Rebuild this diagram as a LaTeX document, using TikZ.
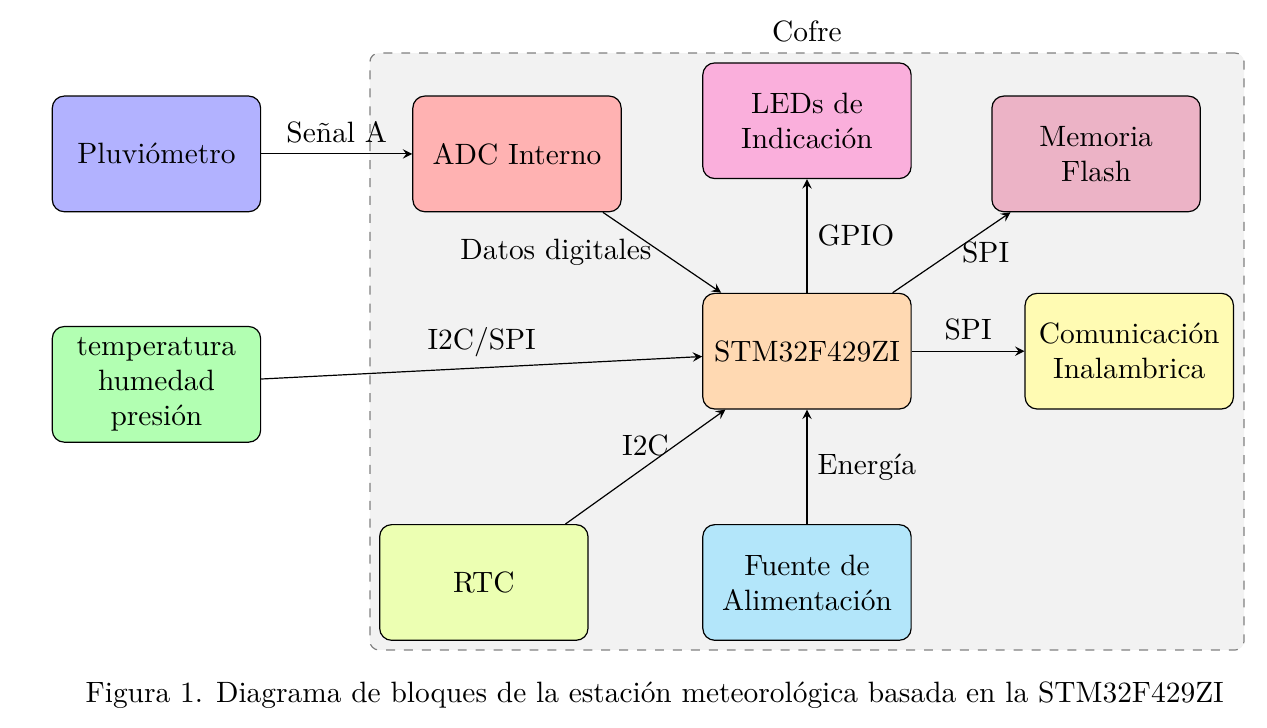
\documentclass[tikz,border=0pt]{standalone}
\usepackage{fontspec}
\usepackage{tikz}
\usetikzlibrary{arrows,positioning}
\definecolor{rosaled}{RGB}{250,175,220}
\definecolor{rosaflash}{RGB}{236,179,198}
\definecolor{celeste}{RGB}{179,230,250}
\begin{document}
\begin{tikzpicture}[every node/.style={font=\fontsize{9.84}{11.7}\selectfont},
  bloque/.style={draw, rounded corners, minimum width=2.45cm, minimum height=1.36cm, align=center},
  flecha/.style={-stealth}]
\useasboundingbox (0,0) rectangle (14.9,8.55);
% caja del cofre
\node[draw=gray, dashed, fill=gray!10, rounded corners=3pt, minimum width=10.28cm, minimum height=7.02cm,
  label={above:Cofre}] (cofre) at (9.49,4.416) {};
% bloques
\node[bloque, fill=blue!30] (pluv) at (1.84,6.74) {Pluviómetro};
\node[bloque, fill=green!30] (temp) at (1.84,4.03) {temperatura\\humedad\\presión};
\node[bloque, fill=red!30] (adc) at (6.08,6.74) {ADC Interno};
\node[bloque, fill=rosaled] (led) at (9.49,7.13) {LEDs de\\Indicación};
\node[bloque, fill=rosaflash] (flash) at (12.89,6.74) {Memoria\\Flash};
\node[bloque, fill=orange!30] (stm) at (9.49,4.42) {STM32F429ZI};
\node[bloque, fill=yellow!30] (com) at (13.28,4.42) {Comunicación\\Inalambrica};
\node[bloque, fill=lime!30] (rtc) at (5.69,1.70) {RTC};
\node[bloque, fill=celeste] (fuente) at (9.49,1.70) {Fuente de\\Alimentación};
% conexiones
\draw[flecha] (pluv) -- node[above] {Señal A} (adc);
\draw[flecha] (adc) -- node[left] {Datos digitales} (stm);
\draw[flecha] (stm) -- node[right] {GPIO} (led);
\draw[flecha] (stm) -- node[right] {SPI} (flash);
\draw[flecha] (stm) -- node[above] {SPI} (com);
\draw[flecha] (temp) -- node[above] {I2C/SPI} (stm);
\draw[flecha] (rtc) -- node[above] {I2C} (stm);
\draw[flecha] (fuente) -- node[right] {Energía} (stm);
% pie de figura
\node (pie) at (7.70,0.376) {Figura 1. Diagrama de bloques de la estación meteorológica basada en la STM32F429ZI};
\end{tikzpicture}
\end{document}
